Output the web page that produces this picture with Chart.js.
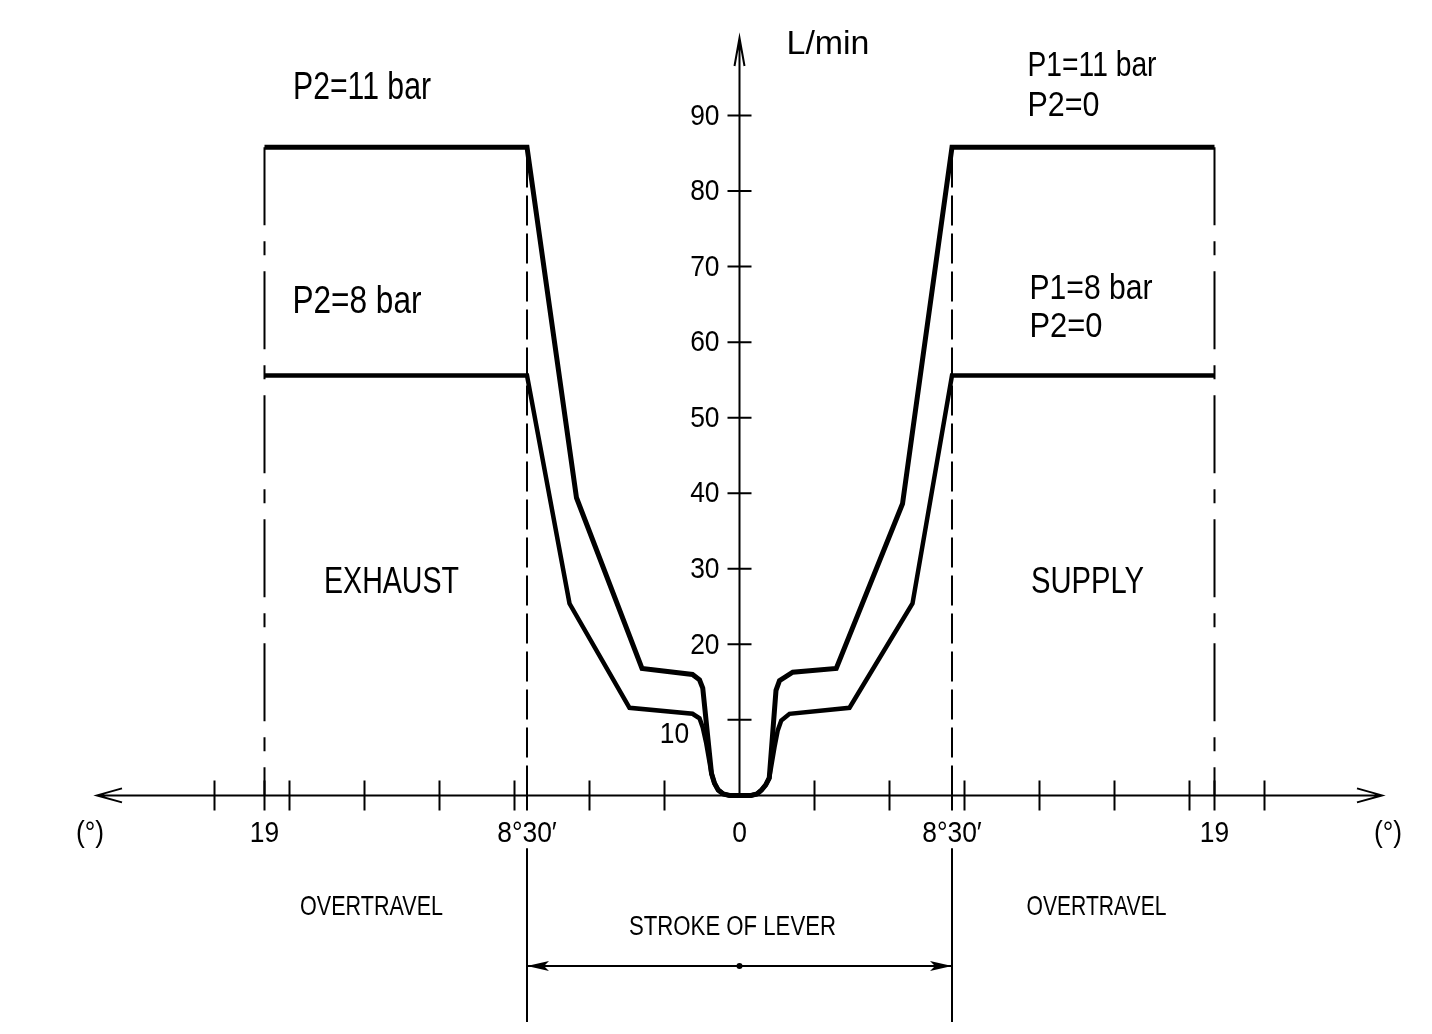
<!DOCTYPE html>
<html>
<head>
<meta charset="utf-8">
<script src="https://cdn.jsdelivr.net/npm/chart.js@4.4.1/dist/chart.umd.min.js"></script>
<style>
  html, body { margin: 0; padding: 0; background: #fff; }
  #wrap { width: 1432px; height: 1034px; }
</style>
</head>
<body>
<div id="wrap"><canvas id="flowChart"></canvas></div>
<script>
// lever angle in degrees (minus = exhaust side), flow in L/min
const curve11Angle = [-19, -8.5, -6.52, -3.9, -1.88, -1.6, -1.47, -1.12, -1.0, -0.85, -0.65, -0.4, 0,
                      0.46, 0.7, 0.88, 1.05, 1.19, 1.46, 1.6, 2.13, 3.87, 6.52, 8.5, 19];
const curve11Flow  = [85.8, 85.8, 39.4, 16.8, 16.0, 15.3, 14.2, 2.9, 1.6, 0.7, 0.2, 0, 0,
                      0, 0.2, 0.7, 1.4, 2.3, 13.9, 15.2, 16.3, 16.8, 38.6, 85.8, 85.8];

const curve8Angle = [-19, -8.5, -6.8, -4.4, -1.88, -1.6, -1.47, -1.33, -1.12, -1.0, -0.85, -0.65, -0.4, 0,
                     0.46, 0.7, 0.88, 1.05, 1.19, 1.4, 1.53, 1.67, 2.0, 4.4, 6.92, 8.5, 19];
const curve8Flow  = [55.6, 55.6, 25.4, 11.6, 10.8, 10.2, 9.0, 6.9, 2.9, 1.6, 0.7, 0.2, 0, 0,
                     0, 0.2, 0.7, 1.4, 2.3, 6.4, 8.6, 9.9, 10.8, 11.6, 25.4, 55.6, 55.6];

const angleTicks = [-21, -18, -15, -12, -9, -6, -3, 3, 6, 9, 12, 15, 18, 21];
const strokeEnds = [-8.5, 8.5];
const overtravelEnds = [-19, 19];
const angleLabelValues = [-19, -8.5, 0, 8.5, 19];
const angleLabelTexts = ['19', '8°30′', '0', '8°30′', '19'];
const flowTicks = [10, 20, 30, 40, 50, 60, 70, 80, 90];

const topFlow = 85.8;
const strokeLineFlow = [-7, -30];
const dimensionFlow = -22.6;

const FONT = '"Liberation Sans", Arial, sans-serif';

function pts(xs, ys) {
    return xs.map((x, i) => ({ x: x, y: ys[i] }));
}

function thinLine(data, dash) {
    return {
        data: data,
        showLine: true,
        borderColor: '#000',
        borderWidth: 2,
        borderDash: dash,
        pointRadius: 0,
        tension: 0,
    };
}

const datasets = [
    {
        label: 'P=11 bar',
        data: pts(curve11Angle, curve11Flow),
        showLine: true,
        borderColor: '#000',
        borderWidth: 5,
        pointRadius: 0,
        tension: 0,
    },
    {
        label: 'P=8 bar',
        data: pts(curve8Angle, curve8Flow),
        showLine: true,
        borderColor: '#000',
        borderWidth: 4.5,
        pointRadius: 0,
        tension: 0,
    },
];

// dashed limits of the lever stroke
strokeEnds.forEach(a => datasets.push(thinLine([{ x: a, y: 0 }, { x: a, y: topFlow }], [30, 8])));
// chain lines at the end of overtravel
overtravelEnds.forEach(a => datasets.push(thinLine([{ x: a, y: topFlow }, { x: a, y: 0 }], [78, 16, 14, 16])));
// extension lines under the axis
strokeEnds.forEach(a => datasets.push(thinLine([{ x: a, y: strokeLineFlow[0] }, { x: a, y: strokeLineFlow[1] }], [])));
// dimension line
datasets.push(thinLine([{ x: strokeEnds[0], y: dimensionFlow }, { x: strokeEnds[1], y: dimensionFlow }], []));

// text squeezed sideways to look like the narrow drafting font
function narrowText(ctx, s, x, y, size, align, width) {
    ctx.save();
    ctx.font = size + 'px ' + FONT;
    ctx.textAlign = align;
    const w = ctx.measureText(s).width;
    const sx = width ? width / w : 0.88;
    ctx.translate(x, y);
    ctx.scale(sx, 1);
    ctx.fillText(s, 0, 0);
    ctx.restore();
}

const drawingPlugin = {
    id: 'drawing',
    afterDatasetsDraw(chart) {
        const ctx = chart.ctx;
        const xs = chart.scales.x;
        const ys = chart.scales.y;
        const px = v => xs.getPixelForValue(v);
        const py = v => ys.getPixelForValue(v);
        const x0 = px(0);
        const y0 = py(0);
        const left = xs.left;
        const right = xs.right;
        const top = ys.top;

        ctx.save();
        ctx.strokeStyle = '#000';
        ctx.fillStyle = '#000';
        ctx.lineWidth = 2;
        ctx.lineCap = 'butt';

        // x axis with open arrows
        ctx.beginPath();
        ctx.moveTo(left, y0);
        ctx.lineTo(right, y0);
        ctx.moveTo(left + 25, y0 - 7);
        ctx.lineTo(left, y0);
        ctx.lineTo(left + 25, y0 + 7);
        ctx.moveTo(right - 25, y0 - 7);
        ctx.lineTo(right, y0);
        ctx.lineTo(right - 25, y0 + 7);
        ctx.stroke();

        // y axis with open arrow
        ctx.beginPath();
        ctx.moveTo(x0, y0);
        ctx.lineTo(x0, top - 2);
        ctx.moveTo(x0 - 5, top + 26);
        ctx.lineTo(x0, top - 2);
        ctx.lineTo(x0 + 5, top + 26);
        ctx.stroke();

        // x ticks
        ctx.beginPath();
        angleTicks.concat(overtravelEnds, strokeEnds).forEach(a => {
            ctx.moveTo(px(a), y0 - 15);
            ctx.lineTo(px(a), y0 + 15);
        });
        ctx.stroke();

        // y ticks
        ctx.beginPath();
        flowTicks.forEach(f => {
            ctx.moveTo(x0 - 12, py(f));
            ctx.lineTo(x0 + 12, py(f));
        });
        ctx.stroke();

        // y tick labels
        ctx.textBaseline = 'middle';
        flowTicks.forEach(f => {
            if (f === 10) {
                narrowText(ctx, String(f), x0 - 65, py(f) + 15, 30, 'center');
            } else {
                narrowText(ctx, String(f), x0 - 20, py(f) + 1, 30, 'right');
            }
        });

        // x labels
        angleLabelValues.forEach((a, i) => {
            narrowText(ctx, angleLabelTexts[i], px(a), y0 + 38, 30, 'center');
        });
        narrowText(ctx, '(°)', left - 7, y0 + 38, 30, 'center');
        narrowText(ctx, '(°)', right + 6, y0 + 38, 30, 'center');

        // dimension arrows and centre dot
        const yd = py(dimensionFlow);
        [[px(strokeEnds[0]), 1], [px(strokeEnds[1]), -1]].forEach(([tip, dir]) => {
            ctx.beginPath();
            ctx.moveTo(tip, yd);
            ctx.lineTo(tip + dir * 22, yd - 5);
            ctx.lineTo(tip + dir * 17, yd);
            ctx.lineTo(tip + dir * 22, yd + 5);
            ctx.closePath();
            ctx.fill();
        });
        ctx.beginPath();
        ctx.arc(x0, yd, 3, 0, Math.PI * 2);
        ctx.fill();

        // annotations
        ctx.textBaseline = 'alphabetic';
        const text = (s, x, y, size, align, width) => narrowText(ctx, s, px(x), py(y), size, align, width);
        text('L/min', 1.88, 98.1, 34, 'left', 83);
        text('P2=11 bar', -15.1, 92.2, 38, 'center', 138);
        text('P2=8 bar', -15.3, 63.9, 38, 'center', 129);
        text('P1=11 bar', 11.52, 95.3, 35, 'left', 129);
        text('P2=0', 11.52, 89.9, 35, 'left', 72);
        text('P1=8 bar', 11.6, 65.7, 35, 'left', 123);
        text('P2=0', 11.6, 60.7, 35, 'left', 73);
        text('EXHAUST', -13.92, 26.8, 37, 'center', 135);
        text('SUPPLY', 13.92, 26.8, 37, 'center', 113);
        text('OVERTRAVEL', -14.72, -15.8, 28, 'center', 143);
        text('OVERTRAVEL', 14.28, -15.8, 28, 'center', 140);
        text('STROKE OF LEVER', -0.28, -18.5, 27, 'center', 207);

        ctx.restore();
    }
};

new Chart(document.getElementById('flowChart'), {
    type: 'scatter',
    data: { datasets: datasets },
    options: {
        responsive: true,
        maintainAspectRatio: false,
        animation: false,
        layout: { padding: { left: 97, right: 50, top: 40, bottom: 12 } },
        plugins: {
            legend: { display: false },
            tooltip: { enabled: false },
        },
        scales: {
            x: { type: 'linear', min: -25.7, max: 25.7, display: false },
            y: { type: 'linear', min: -30, max: 100, display: false },
        },
    },
    plugins: [drawingPlugin],
});
</script>
</body>
</html>
